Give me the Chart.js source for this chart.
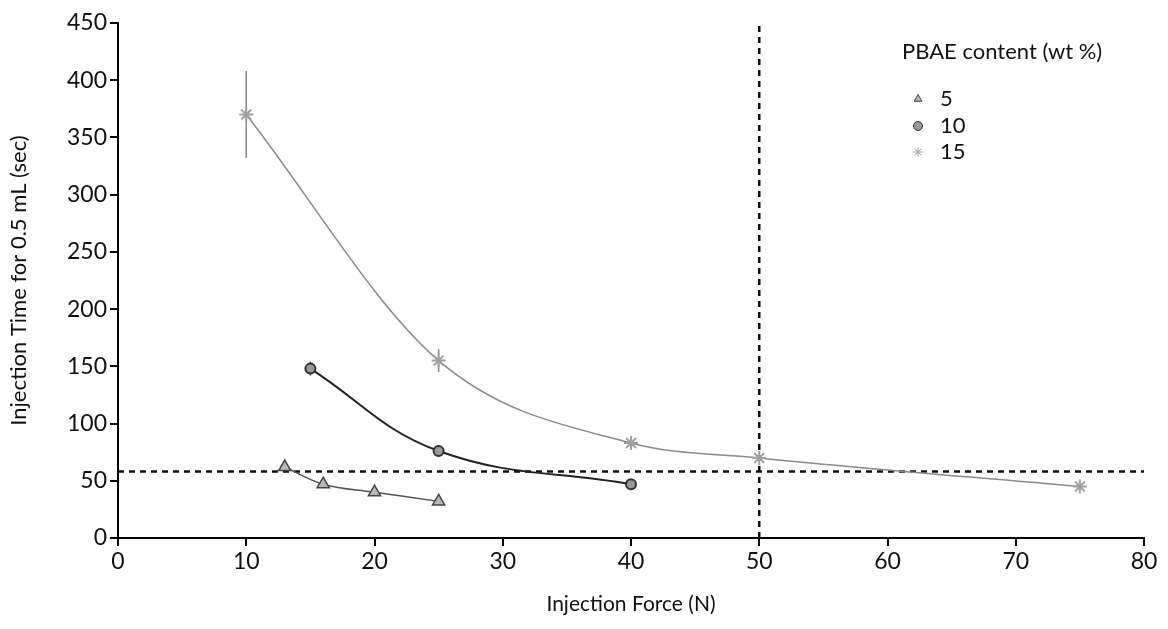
<!DOCTYPE html>
<html>
<head>
<meta charset="utf-8">
<script src="https://cdn.jsdelivr.net/npm/chart.js@4.4.1/dist/chart.umd.min.js"></script>
<style>
  html, body { margin: 0; padding: 0; background: #fff; }
  #wrap { width: 1168px; height: 629px; }
</style>
</head>
<body>
<div id="wrap"><canvas id="forceChart" width="1168" height="629"></canvas></div>
<script>
// data
var force5 = [13, 16, 20, 25];
var time5 = [62, 47, 40, 32];
var err5 = [4, 3, 3, 3];

var force10 = [15, 25, 40];
var time10 = [148, 76, 47];
var err10 = [6, 5, 2];

var force15 = [10, 25, 40, 50, 75];
var time15 = [370, 155, 83, 70, 45];
var err15 = [38, 10, 5, 3, 2];

var refTime = 58;   // horizontal dashed line
var refForce = 50;  // vertical dashed line
var xTicks = [0, 10, 20, 30, 40, 50, 60, 70, 80];
var yTicks = [0, 50, 100, 150, 200, 250, 300, 350, 400, 450];

var legendTitle = "PBAE content (wt %)";
var legendLabels = ["5", "10", "15"];

function pts(xs, ys) {
  return xs.map(function (x, i) { return { x: x, y: ys[i] }; });
}

var FONT = "Lato, 'Open Sans', sans-serif";

var errorBars = {
  id: "errorBars",
  beforeDatasetsDraw: function (chart) {
    var ctx = chart.ctx, xs = chart.scales.x, ys = chart.scales.y;
    chart.data.datasets.forEach(function (ds) {
      if (!ds.errors) return;
      ctx.save();
      ctx.strokeStyle = ds.errColor || "#777";
      ctx.lineWidth = 1.5;
      ds.data.forEach(function (p, i) {
        var e = ds.errors[i];
        var px = xs.getPixelForValue(p.x);
        ctx.beginPath();
        ctx.moveTo(px, ys.getPixelForValue(p.y - e));
        ctx.lineTo(px, ys.getPixelForValue(p.y + e));
        ctx.stroke();
      });
      ctx.restore();
    });
  }
};

var boxLegend = {
  id: "boxLegend",
  afterDraw: function (chart) {
    var ctx = chart.ctx;
    ctx.save();
    ctx.fillStyle = "#111";
    ctx.font = "22px " + FONT;
    ctx.textBaseline = "middle";
    ctx.textAlign = "left";
    ctx.fillText(legendTitle, 902, 52);
    var rows = [99, 126, 152];
    var sets = chart.data.datasets.slice(0, 3);
    sets.forEach(function (ds, i) {
      var opts = {
        pointStyle: ds.pointStyle, radius: 4.5, rotation: 0,
        borderWidth: 1
      };
      ctx.fillStyle = ds.pointBackgroundColor;
      ctx.strokeStyle = ds.pointBorderColor;
      ctx.lineWidth = 1;
      Chart.helpers.drawPoint(ctx, opts, 918, rows[i]);
      ctx.fillStyle = "#111";
      ctx.font = "22px " + FONT;
      ctx.fillText(legendLabels[i], 940, rows[i]);
    });
    ctx.restore();
  }
};

new Chart(document.getElementById("forceChart"), {
  type: "line",
  data: {
    datasets: [
      {
        label: "5",
        data: pts(force5, time5),
        errors: err5,
        borderColor: "#555",
        borderWidth: 1.5,
        tension: 0.4,
        pointStyle: "triangle",
        pointRadius: 7,
        pointBackgroundColor: "#b8b8b8",
        pointBorderColor: "#444"
      },
      {
        label: "10",
        data: pts(force10, time10),
        errors: err10,
        errColor: "#333",
        borderColor: "#222",
        borderWidth: 2,
        tension: 0.4,
        pointStyle: "circle",
        pointRadius: 5,
        pointBackgroundColor: "#999",
        pointBorderColor: "#333"
      },
      {
        label: "15",
        data: pts(force15, time15),
        errors: err15,
        errColor: "#888",
        borderColor: "#8a8a8a",
        borderWidth: 1.5,
        cubicInterpolationMode: "monotone",
        pointStyle: "star",
        pointRadius: 7,
        pointBorderWidth: 2,
        pointBackgroundColor: "#c8c8c8",
        pointBorderColor: "#a0a0a0"
      },
      {
        label: "ref time",
        data: [{ x: 0, y: refTime }, { x: 80, y: refTime }],
        borderColor: "#111",
        borderWidth: 2.5,
        borderDash: [6, 5],
        pointRadius: 0
      },
      {
        label: "ref force",
        data: [{ x: refForce, y: 0 }, { x: refForce, y: 450 }],
        borderColor: "#111",
        borderWidth: 2.5,
        borderDash: [6, 5],
        pointRadius: 0
      }
    ]
  },
  options: {
    responsive: false,
    animation: false,
    layout: { padding: { top: 23, right: 24, left: 0, bottom: 0 } },
    plugins: {
      legend: { display: false },
      tooltip: { enabled: false }
    },
    scales: {
      x: {
        type: "linear",
        min: 0, max: 80,
        afterFit: function (s) { s.height = 91; },
        afterBuildTicks: function (s) { s.ticks = xTicks.map(function (v) { return { value: v }; }); },
        grid: { drawOnChartArea: false, drawTicks: true, tickLength: 8, color: "#000", lineWidth: 2 },
        border: { display: true, color: "#000", width: 2 },
        ticks: { color: "#111", font: { size: 23, family: FONT }, padding: 2 },
        title: {
          display: true, text: "Injection Force (N)", color: "#111",
          font: { size: 21, family: FONT }, padding: { top: 0, bottom: 12 }
        }
      },
      y: {
        type: "linear",
        min: 0, max: 450,
        afterFit: function (s) { s.width = 118; },
        afterBuildTicks: function (s) { s.ticks = yTicks.map(function (v) { return { value: v }; }); },
        grid: { drawOnChartArea: false, drawTicks: true, tickLength: 8, color: "#000", lineWidth: 2 },
        border: { display: true, color: "#000", width: 2 },
        ticks: { color: "#111", font: { size: 23, family: FONT }, padding: 3 },
        title: {
          display: true, text: "Injection Time for 0.5 mL (sec)", color: "#111",
          font: { size: 22, family: FONT }, padding: { top: 6, bottom: 0 }
        }
      }
    }
  },
  plugins: [errorBars, boxLegend]
});
</script>
</body>
</html>
